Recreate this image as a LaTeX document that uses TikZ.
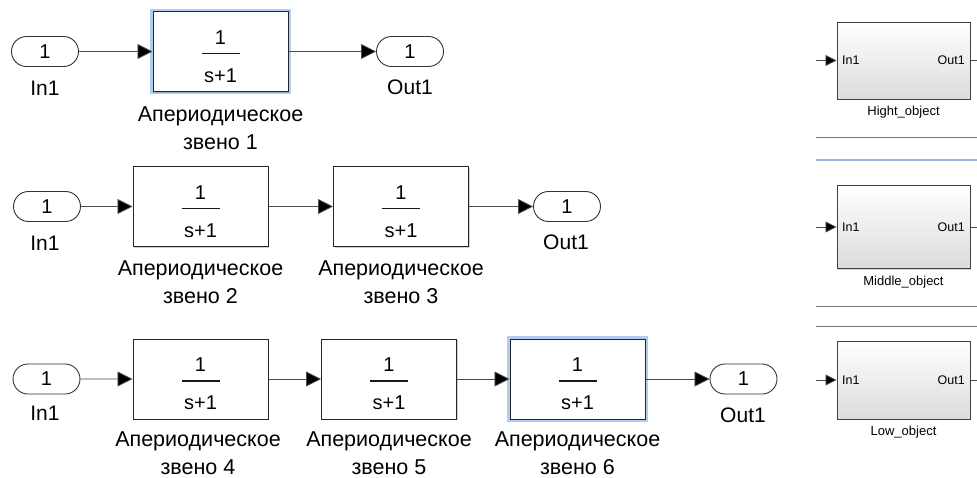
\documentclass[tikz,border=0pt]{standalone}
\usepackage{fontspec}
\setmainfont{Liberation Sans}
\usetikzlibrary{arrows.meta,shapes.misc,shadows,calc}
\definecolor{glowblue}{RGB}{175,205,242}
\definecolor{sepblueclr}{RGB}{150,180,220}
\tikzset{
  port/.style={rounded rectangle, draw=black!80, line width=0.9pt, minimum width=67pt, minimum height=30pt, inner sep=0pt, fill=white, font=\fontsize{20}{20}\selectfont},
  plab/.style={inner sep=0pt, font=\fontsize{21}{21}\selectfont},
  tfblock/.style={draw=black!85, line width=1pt, fill=white, inner sep=0pt, minimum width=135pt, minimum height=80pt,
    drop shadow={shadow xshift=1.2pt, shadow yshift=-1.2pt, opacity=0.3, fill=black!60}},
  selglow/.style={draw=glowblue, line width=2.6pt},
  fracnum/.style={inner sep=0pt, font=\fontsize{20}{20}\selectfont},
  fracbar/.style={line width=1.8pt, draw=black!90},
  blab/.style={inner sep=0pt, align=center, font=\fontsize{21.5}{28}\selectfont},
  conn/.style={draw=black!70, line width=0.8pt, -{Triangle[length=15pt,width=15pt,fill=black]}},
  plain/.style={draw=black!70, line width=0.8pt},
  subsys/.style={draw=black!75, line width=1pt, top color=white, bottom color=black!14, minimum width=133pt, inner sep=0pt,
    drop shadow={shadow xshift=1pt, shadow yshift=-1pt, opacity=0.3, fill=black!60}},
  sport/.style={inner sep=0pt, font=\fontsize{12.5}{12.5}\selectfont},
  slab/.style={inner sep=0pt, font=\fontsize{13}{13}\selectfont},
  sconn/.style={draw=black!70, line width=0.8pt, -{Triangle[length=11pt,width=11pt,fill=black]}},
  sepline/.style={draw=black!55, line width=0.9pt},
  sepblue/.style={draw=sepblueclr, line width=2pt},
}
\newcommand\tfcontent[1]{%
  \node[fracnum] (#1num) at ($(#1.center)+(0,-14)$) {1};
  \draw[fracbar] ($(#1.center)+(-19,2)$) -- ($(#1.center)+(19,2)$);
  \node[fracnum] (#1den) at ($(#1.center)+(0,24)$) {s+1};
}
\begin{document}
\begin{tikzpicture}[x=1pt,y=-1pt]
\useasboundingbox[fill=white] (0,0) rectangle (977,477);

% ---------- Row 1 ----------
\node[port] (in1) at (45,51.5) {1};
\node[plab] (in1l) at (45,88) {In1};
\draw[selglow] (151.5,10) rectangle (289.5,93);
\node[tfblock] (b1) at (220.5,51.5) {};
\tfcontent{b1}
\node[blab] (b1l) at (220.5,128) {Апериодическое\\звено 1};
\node[port] (out1) at (410,51.5) {1};
\node[plab] (out1l) at (410,87) {Out1};
\draw[conn] (in1) -- (b1);
\draw[conn] (b1) -- (out1);

% ---------- Row 2 ----------
\node[port] (in2) at (47,206.5) {1};
\node[plab] (in2l) at (45,243) {In1};
\node[tfblock] (b2) at (200.5,206.5) {};
\tfcontent{b2}
\node[blab] (b2l) at (200.5,282.5) {Апериодическое\\звено 2};
\node[tfblock] (b3) at (401,206.5) {};
\tfcontent{b3}
\node[blab] (b3l) at (401,282.5) {Апериодическое\\звено 3};
\node[port] (out2) at (567,206.5) {1};
\node[plab] (out2l) at (566,242) {Out1};
\draw[conn] (in2) -- (b2);
\draw[conn] (b2) -- (b3);
\draw[conn] (b3) -- (out2);

% ---------- Row 3 ----------
\node[port] (in3) at (46.5,379) {1};
\node[plab] (in3l) at (45,413) {In1};
\node[tfblock] (b4) at (200.5,379) {};
\tfcontent{b4}
\node[blab] (b4l) at (198,453) {Апериодическое\\звено 4};
\node[tfblock] (b5) at (389,379) {};
\tfcontent{b5}
\node[blab] (b5l) at (389,453) {Апериодическое\\звено 5};
\draw[selglow] (508.5,337.5) rectangle (646.5,420.5);
\node[tfblock] (b6) at (577.5,379) {};
\tfcontent{b6}
\node[blab] (b6l) at (577.5,453) {Апериодическое\\звено 6};
\node[port] (out3) at (743.5,379) {1};
\node[plab] (out3l) at (743,415) {Out1};
\draw[conn] (in3) -- (b4);
\draw[conn] (b4) -- (b5);
\draw[conn] (b5) -- (b6);
\draw[conn] (b6) -- (out3);

% ---------- Right panel: subsystems ----------
\node[subsys, minimum height=77pt] (hi) at (903.5,60.5) {};
\node[sport, anchor=west] (hiin) at (842,60.5) {In1};
\node[sport, anchor=east] (hiout) at (965,60.5) {Out1};
\node[slab] (hil) at (903.5,112) {Hight\_object};
\coordinate (hisrc) at (816,60.5);
\coordinate (hidst) at (977,60.5);
\draw[sconn] (hisrc) -- (hi);
\draw[plain] (hi) -- (hidst);

\draw[sepline] (816,137) -- (977,137);
\draw[sepblue] (816,160) -- (977,160);

\node[subsys, minimum height=83pt] (mid) at (903.5,227) {};
\node[sport, anchor=west] (midin) at (842,227) {In1};
\node[sport, anchor=east] (midout) at (965,227) {Out1};
\node[slab] (midl) at (903.5,282) {Middle\_object};
\coordinate (midsrc) at (816,227);
\coordinate (middst) at (977,227);
\draw[sconn] (midsrc) -- (mid);
\draw[plain] (mid) -- (middst);

\draw[sepline] (816,306) -- (977,306);
\draw[sepline] (816,326) -- (977,326);

\node[subsys, minimum height=78pt] (lo) at (903.5,380) {};
\node[sport, anchor=west] (loin) at (842,380) {In1};
\node[sport, anchor=east] (loout) at (965,380) {Out1};
\node[slab] (lol) at (903.5,432) {Low\_object};
\coordinate (losrc) at (816,380);
\coordinate (lodst) at (977,380);
\draw[sconn] (losrc) -- (lo);
\draw[plain] (lo) -- (lodst);
\end{tikzpicture}
\end{document}
